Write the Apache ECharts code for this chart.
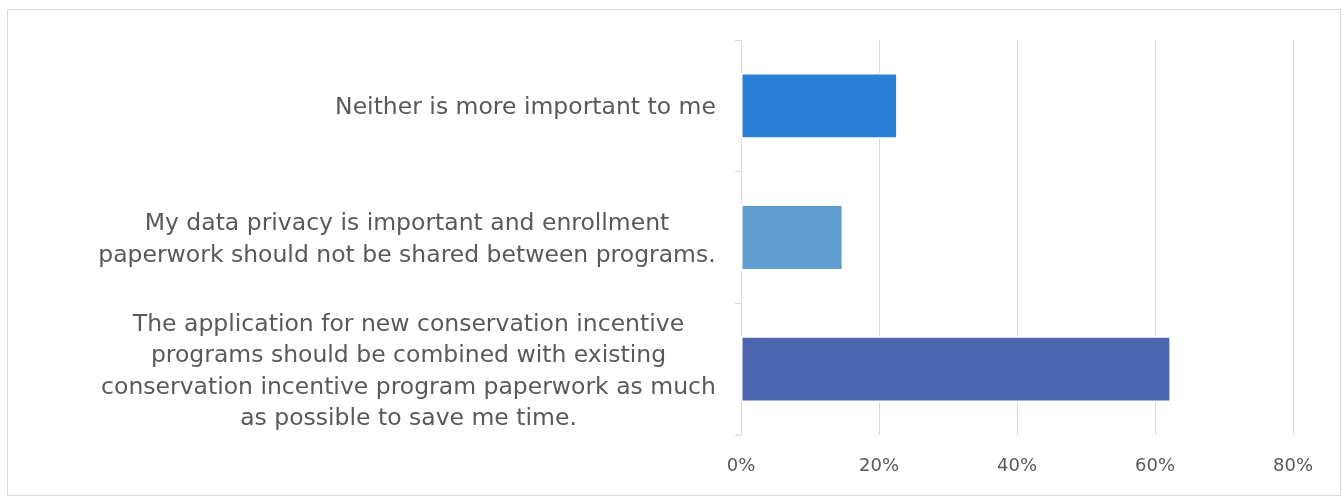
<!DOCTYPE html>
<html>
<head>
<meta charset="utf-8">
<script src="https://cdn.jsdelivr.net/npm/echarts@6/dist/echarts.min.js"></script>
<style>
  html, body { margin: 0; padding: 0; background: #ffffff; }
  #chart { width: 1343px; height: 498px; }
</style>
</head>
<body>
<div id="chart"></div>
<script>
// Answer options, listed bottom to top as the category axis draws them
const categories = [
  ['The application for new conservation incentive',
   'programs should be combined with existing',
   'conservation incentive program paperwork as much',
   'as possible to save me time.'],
  ['My data privacy is important and enrollment',
   'paperwork should not be shared between programs.'],
  ['Neither is more important to me']
];
// Share of respondents (%)
const values = [62.3, 14.8, 22.7];
const barColors = ['#4A65AD', '#619DD1', '#2A7FD6'];
const xTicks = [0, 20, 40, 60, 80];

const FONT = 'DejaVu Sans';
const CAT_SIZE = 23.5;
const TICK_SIZE = 18;

// Measure each label's widest line so the lines can be centred in a block
const ctx = document.createElement('canvas').getContext('2d');
ctx.font = CAT_SIZE + 'px "' + FONT + '"';
const rich = {};
categories.forEach((lines, i) => {
  const w = Math.max(...lines.map(l => ctx.measureText(l).width));
  rich['c' + i] = { width: Math.ceil(w), align: 'center', fontFamily: FONT,
                    fontSize: CAT_SIZE, color: '#595959', lineHeight: 31.5 };
});
const catKeys = categories.map((_, i) => 'k' + i);

const chart = echarts.init(document.getElementById('chart'));
chart.setOption({
  animation: false,
  backgroundColor: '#ffffff',
  graphic: [{
    type: 'rect',
    shape: { x: 7.5, y: 9.5, width: 1333, height: 486 },
    style: { fill: 'none', stroke: '#d9d9d9', lineWidth: 1 },
    silent: true
  }],
  grid: { left: 741, right: 50, top: 40, bottom: 63, containLabel: false },
  xAxis: {
    type: 'value',
    min: 0, max: 80, interval: 20,
    axisLine: { show: false },
    axisTick: { show: false },
    splitLine: { show: true, lineStyle: { color: '#d9d9d9', width: 1 } },
    axisLabel: {
      formatter: v => xTicks.includes(v) ? v + '%' : '',
      color: '#595959', fontFamily: FONT, fontSize: TICK_SIZE, margin: 22
    }
  },
  yAxis: {
    type: 'category',
    data: catKeys,
    axisLine: { show: true, lineStyle: { color: '#d9d9d9', width: 1 } },
    axisTick: { show: true, length: 6, lineStyle: { color: '#d9d9d9' } },
    axisLabel: {
      margin: 25,
      align: 'right',
      padding: [5, 0, 0, 0],
      formatter: (v, idx) => categories[idx].map(l => '{c' + idx + '|' + l + '}').join('\n'),
      rich: rich
    }
  },
  series: [{
    type: 'bar',
    data: values.map((v, i) => ({ value: v, itemStyle: { color: barColors[i] } })),
    barCategoryGap: '50%',
    itemStyle: { borderColor: '#ffffff', borderWidth: 1.5 }
  }]
});
</script>
</body>
</html>
